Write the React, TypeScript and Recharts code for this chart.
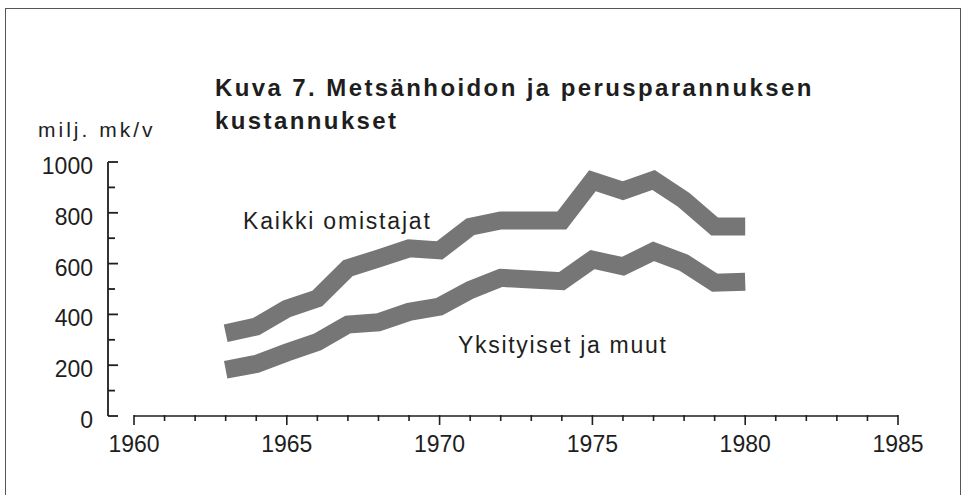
import React from 'react';
import { LineChart, Line, XAxis, YAxis, ReferenceLine } from 'recharts';

const years = [1963, 1964, 1965, 1966, 1967, 1968, 1969, 1970, 1971, 1972, 1973, 1974, 1975, 1976, 1977, 1978, 1979, 1980];
const kaikkiOmistajat = [326, 352, 422, 463, 582, 620, 660, 652, 745, 770, 770, 770, 926, 887, 929, 850, 746, 746];
const yksityisetJaMuut = [182, 205, 250, 291, 360, 369, 410, 431, 496, 544, 537, 531, 616, 589, 648, 603, 525, 529];

const xTicks = [1960, 1961, 1962, 1963, 1964, 1965, 1966, 1967, 1968, 1969, 1970, 1971, 1972, 1973, 1974, 1975, 1976, 1977, 1978, 1979, 1980, 1981, 1982, 1983, 1984, 1985];
const xLabelEvery = 5;
const yTicks = [0, 100, 200, 300, 400, 500, 600, 700, 800, 900, 1000];
const yLabelEvery = 200;

const titleLine1 = 'Kuva 7. Metsänhoidon ja perusparannuksen';
const titleLine2 = 'kustannukset';
const yUnit = 'milj. mk/v';
const labelKaikki = 'Kaikki omistajat';
const labelYksityiset = 'Yksityiset ja muut';

const data = years.map((year, i) => ({
  year,
  kaikki: kaikkiOmistajat[i],
  yksityiset: yksityisetJaMuut[i],
}));

const FONT = '"Liberation Sans", Arial, Helvetica, sans-serif';
const INK = '#1e1e1e';
const BAND = '#767676';

const XTick = (props: any) => {
  const { x, y, payload } = props;
  const major = payload.value % xLabelEvery === 0;
  return (
    <g>
      <line x1={x} x2={x} y1={y - 1} y2={y + (major ? 9 : 5)} stroke={INK} strokeWidth={1.6} />
      {major && (
        <text x={x} y={y + 36} textAnchor="middle" fontFamily={FONT} fontSize={23} fill={INK}>
          {payload.value}
        </text>
      )}
    </g>
  );
};

const YTick = (props: any) => {
  const { x, y, payload } = props;
  const axisX = x + 15;
  const major = payload.value % yLabelEvery === 0;
  return (
    <g>
      <line x1={axisX} x2={axisX + (major ? 10 : 7)} y1={y} y2={y} stroke={INK} strokeWidth={1.8} />
      {major && (
        <text x={x} y={y + 12} textAnchor="end" fontFamily={FONT} fontSize={23} fill={INK}>
          {payload.value}
        </text>
      )}
    </g>
  );
};

export default function App() {
  return (
    <div
      style={{
        position: 'absolute',
        left: 0,
        top: 0,
        width: 968,
        height: 495,
        overflow: 'hidden',
        background: '#ffffff',
      }}
    >
      <div
        style={{
          position: 'absolute',
          left: 5,
          top: 8,
          width: 956,
          height: 500,
          borderLeft: '1.5px solid #555',
          borderTop: '1.5px solid #555',
          borderRight: '1.5px solid #555',
          boxSizing: 'border-box',
        }}
      />
      <div style={{ position: 'absolute', left: 0, top: 0 }}>
        <LineChart width={968} height={495} data={data} margin={{ top: 162, right: 70, left: 8, bottom: 39 }}>
          <XAxis
            dataKey="year"
            type="number"
            domain={[1960, 1985]}
            ticks={xTicks}
            interval={0}
            padding={{ left: 26, right: 0 }}
            axisLine={false}
            tickLine={false}
            tickSize={0}
            tickMargin={0}
            height={40}
            tick={<XTick />}
          />
          <YAxis
            type="number"
            domain={[0, 1000]}
            ticks={yTicks}
            interval={0}
            width={100}
            tickSize={0}
            tickMargin={15}
            tickLine={false}
            axisLine={{ stroke: INK, strokeWidth: 1.8 }}
            tick={<YTick />}
          />
          <ReferenceLine
            segment={[{ x: 1960, y: 0 }, { x: 1985, y: 0 }]}
            stroke={INK}
            strokeWidth={1.6}
            ifOverflow="visible"
          />
          <Line
            type="linear"
            dataKey="kaikki"
            stroke={BAND}
            strokeWidth={18}
            strokeLinejoin="miter"
            strokeLinecap="butt"
            dot={false}
            activeDot={false}
            isAnimationActive={false}
          />
          <Line
            type="linear"
            dataKey="yksityiset"
            stroke={BAND}
            strokeWidth={18}
            strokeLinejoin="miter"
            strokeLinecap="butt"
            dot={false}
            activeDot={false}
            isAnimationActive={false}
          />
        </LineChart>
      </div>
      <svg
        width={968}
        height={495}
        style={{ position: 'absolute', left: 0, top: 0, pointerEvents: 'none' }}
      >
        <g fontFamily={FONT} fill={INK}>
          <text x={215} y={96} fontSize={24} fontWeight="bold" letterSpacing={2.4}>
            {titleLine1}
          </text>
          <text x={215} y={128.5} fontSize={24} fontWeight="bold" letterSpacing={2.4}>
            {titleLine2}
          </text>
          <text x={38} y={137} fontSize={21} letterSpacing={3}>
            {yUnit}
          </text>
          <text x={243} y={229} fontSize={23} letterSpacing={1.8}>
            {labelKaikki}
          </text>
          <text x={458} y={353} fontSize={23} letterSpacing={1.7}>
            {labelYksityiset}
          </text>
        </g>
      </svg>
    </div>
  );
}
